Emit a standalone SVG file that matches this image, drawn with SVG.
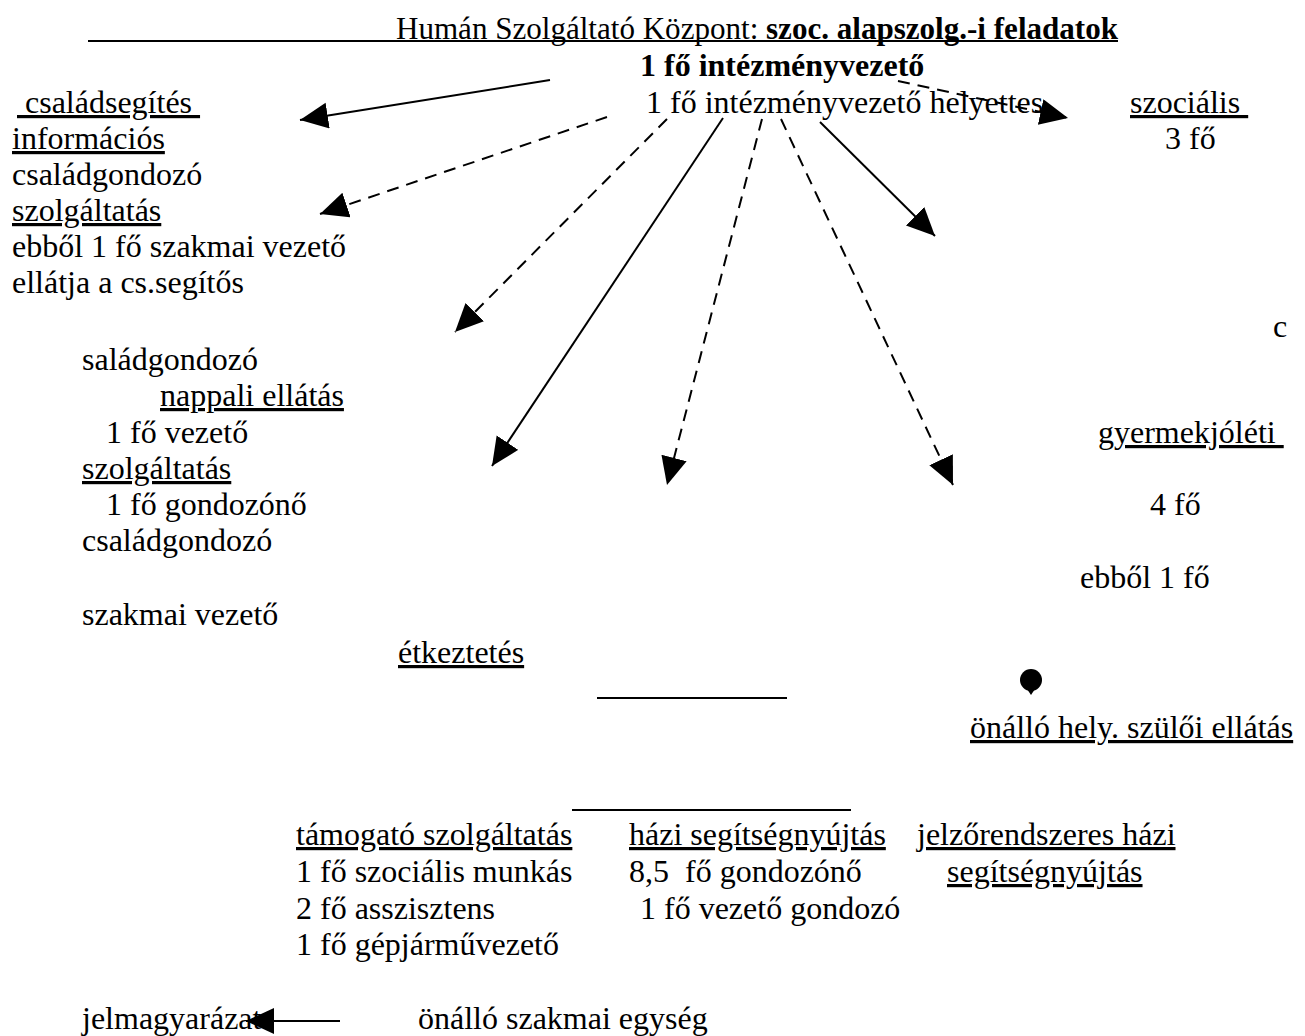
<svg xmlns="http://www.w3.org/2000/svg" width="1305" height="1036" viewBox="0 0 1305 1036">
<style>
text{font-family:"Liberation Serif","Times New Roman",serif;font-size:32px;fill:#000;white-space:pre}
.u{text-decoration:underline}
.b{font-weight:bold}
.c{stroke:#000;stroke-width:2;fill:none}
.d{stroke-dasharray:12 8}
.r{stroke:#000;stroke-width:2}
</style>
<defs>
<marker id="ah" markerUnits="userSpaceOnUse" markerWidth="32" markerHeight="30" refX="28" refY="13" orient="auto">
<path d="M0,0 L28,13 L0,26 z" fill="#000"/>
</marker>
</defs>
<rect width="1305" height="1036" fill="#fff"/>
<g id="title">
<line class="r" x1="88" y1="41" x2="1118" y2="41"/>
<text x="396" y="39" textLength="722" lengthAdjust="spacingAndGlyphs">Humán Szolgáltató Központ: <tspan class="b">szoc. alapszolg.-i feladatok</tspan></text>
</g>
<g id="head"><text class="b" x="640" y="76">1 fő intézményvezető</text></g>
<g id="deputy"><text x="646" y="113">1 fő intézményvezető helyettes</text></g>
<g id="csaladsegites">
<text class="u" x="17" y="113"> családsegítés </text>
<text class="u" x="12" y="149">információs</text>
<text x="12" y="185">családgondozó</text>
<text class="u" x="12" y="221">szolgáltatás</text>
<text x="12" y="257">ebből 1 fő szakmai vezető</text>
<text x="12" y="293">ellátja a cs.segítős</text>
<text x="1273" y="337">c</text>
<text x="82" y="370">saládgondozó</text>
</g>
<g id="nappali">
<text class="u" x="160" y="406">nappali ellátás</text>
<text x="82" y="443">   1 fő vezető</text>
<text class="u" x="82" y="479">szolgáltatás</text>
<text x="82" y="515">   1 fő gondozónő</text>
<text x="82" y="551">családgondozó</text>
<text x="82" y="625">szakmai vezető</text>
</g>
<g id="szocialis">
<text class="u" x="1130" y="113">szociális </text>
<text x="1165" y="149">3 fő</text>
</g>
<g id="gyermekjoleti">
<text class="u" x="1098" y="443">gyermekjóléti </text>
<text x="1150" y="515">4 fő</text>
<text x="1080" y="588">ebből 1 fő</text>
</g>
<g id="etkeztetes">
<text class="u" x="398" y="663">étkeztetés</text>
<line class="r" x1="597" y1="698" x2="787" y2="698"/>
</g>
<g id="szuloi">
<circle cx="1031" cy="680" r="11" fill="#000"/>
<path d="M1027,689 L1031,695 L1035,689 Z" fill="#000"/>
<text class="u" x="970" y="738">önálló hely. szülői ellátás</text>
</g>
<g id="bottom-line"><line class="r" x1="572" y1="810" x2="851" y2="810"/></g>
<g id="tamogato">
<text class="u" x="296" y="845">támogató szolgáltatás</text>
<text x="296" y="882">1 fő szociális munkás</text>
<text x="296" y="919">2 fő asszisztens</text>
<text x="296" y="955">1 fő gépjárművezető</text>
</g>
<g id="hazi">
<text class="u" x="629" y="845">házi segítségnyújtás</text>
<text x="629" y="882">8,5  fő gondozónő</text>
<text x="640" y="919">1 fő vezető gondozó</text>
</g>
<g id="jelzo">
<text class="u" x="917" y="845">jelzőrendszeres házi</text>
<text class="u" x="947" y="882">segítségnyújtás</text>
</g>
<g id="legend">
<text x="82" y="1029">jelmagyarázat:</text>
<text x="418" y="1029">önálló szakmai egység</text>
</g>
<g id="connectors">
<line class="c" x1="550" y1="80" x2="300" y2="120" marker-end="url(#ah)"/>
<line class="c d" x1="607" y1="117" x2="320" y2="214" marker-end="url(#ah)"/>
<line class="c d" x1="667" y1="119" x2="455" y2="332" marker-end="url(#ah)"/>
<line class="c" x1="723" y1="118" x2="492" y2="466" marker-end="url(#ah)"/>
<line class="c d" x1="762" y1="119" x2="667" y2="485" marker-end="url(#ah)"/>
<line class="c d" x1="781" y1="119" x2="953" y2="485" marker-end="url(#ah)"/>
<line class="c" x1="820" y1="122" x2="935" y2="236" marker-end="url(#ah)"/>
<line class="c d" x1="898" y1="81" x2="1068" y2="118" marker-end="url(#ah)"/>
<line class="c" x1="340" y1="1021" x2="246" y2="1021" stroke-width="3" marker-end="url(#ah)"/>
</g>
</svg>
